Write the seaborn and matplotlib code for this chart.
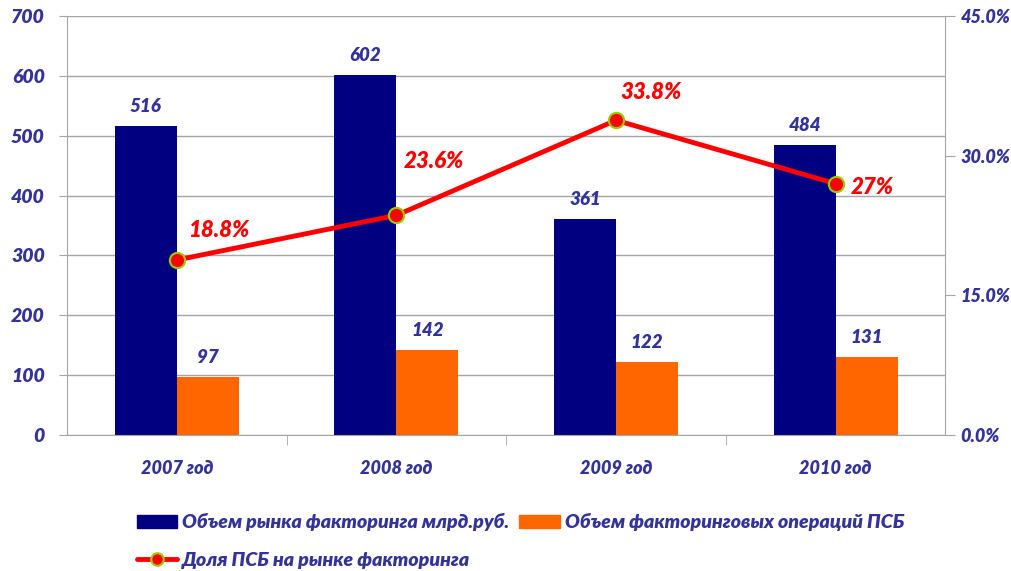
import pandas as pd
import matplotlib as mpl
import matplotlib.pyplot as plt
import seaborn as sns
from matplotlib.ticker import FuncFormatter, MultipleLocator
from matplotlib.patches import Patch
from matplotlib.lines import Line2D

sns.set_style("white")
mpl.rcParams["font.family"] = ["Lato", "DejaVu Sans"]
mpl.rcParams["font.weight"] = "heavy"
mpl.rcParams["font.style"] = "italic"

years = ["2007 год", "2008 год", "2009 год", "2010 год"]
market = [516, 602, 361, 484]
psb = [97, 142, 122, 131]
share = [0.188, 0.236, 0.338, 0.27]
share_labels = ["18.8%", "23.6%", "33.8%", "27%"]
series_names = ["Объем рынка факторинга млрд.руб.", "Объем факторинговых операций ПСБ"]
line_name = "Доля ПСБ на рынке факторинга"

txt = "#333399"
grid = "#a6a6a6"

df = pd.DataFrame({
    "year": years * 2,
    "value": market + psb,
    "series": [series_names[0]] * 4 + [series_names[1]] * 4,
})

fig = plt.figure(figsize=(10.12, 5.71), dpi=100)
ax = fig.add_axes([0.0662, 0.238, 0.868, 0.734])
sns.barplot(data=df, x="year", y="value", hue="series", palette=["#000080", "#ff6600"],
            width=0.565, saturation=1, ax=ax, legend=False, linewidth=0)
for c in ax.containers:
    ax.bar_label(c, fmt="%d", padding=8, color=txt, fontsize=13.5)

ax.set_ylim(0, 700)
ax.set_xlim(-0.5, 3.5)
ax.yaxis.set_major_locator(MultipleLocator(100))
ax.grid(axis="y", color=grid, linewidth=1)
ax.set_axisbelow(True)
ax.set_xlabel("")
ax.set_ylabel("")
ax.set_xticks([0, 1, 2, 3])
ax.set_xticklabels(years)
ax.set_xticks([0.5, 1.5, 2.5], minor=True)
ax.tick_params(axis="x", which="major", length=0, pad=18, labelcolor=txt, labelsize=13)
ax.tick_params(axis="x", which="minor", length=7, color=grid, direction="out", bottom=True)
ax.tick_params(axis="y", length=6, color=grid, direction="out", left=True, labelcolor=txt, labelsize=14, pad=10)
for s in ["left", "bottom"]:
    ax.spines[s].set_color(grid)
ax.spines["top"].set_visible(False)
ax.spines["right"].set_visible(False)

ax2 = ax.twinx()
sns.pointplot(x=years, y=share, ax=ax2, color="#ff0000", markers="o", linewidth=3.5,
              markersize=11, markeredgecolor="#99cc00", markeredgewidth=1.5, errorbar=None)
ax2.set_ylim(0, 0.45)
ax2.set_xlim(-0.5, 3.5)
ax2.set_yticks([0, 0.15, 0.30, 0.45])
ax2.yaxis.set_major_formatter(FuncFormatter(lambda v, p: f"{v*100:.1f}%"))
ax2.tick_params(axis="y", length=7, color=grid, direction="out", right=True, labelcolor=txt, labelsize=13, pad=4)
ax2.set_ylabel("")
for s in ["top", "left", "bottom"]:
    ax2.spines[s].set_visible(False)
ax2.spines["right"].set_color(grid)

offsets = [(42, 30), (37, 54), (35, 28), (37, -4)]
for i, (v, lab) in enumerate(zip(share, share_labels)):
    ax2.annotate(lab, (i, v), xytext=offsets[i], textcoords="offset pixels",
                 ha="center", va="center", color="#ff0000", fontsize=16)

handles = [Patch(color="#000080"), Line2D([], [], color="#ff0000", lw=3.5, marker="o", markersize=9,
                                           markeredgecolor="#99cc00", markeredgewidth=1.5),
           Patch(color="#ff6600")]
labels = [series_names[0], line_name, series_names[1]]
fig.legend(handles, labels, loc="upper left", bbox_to_anchor=(0.135, 0.101), ncol=2, frameon=False,
           fontsize=14, labelcolor=txt, handlelength=2.1, handleheight=0.6, handletextpad=0.25,
           columnspacing=0.5, labelspacing=1.05, borderpad=0, borderaxespad=0)

fig.savefig("out.png", dpi=100)
